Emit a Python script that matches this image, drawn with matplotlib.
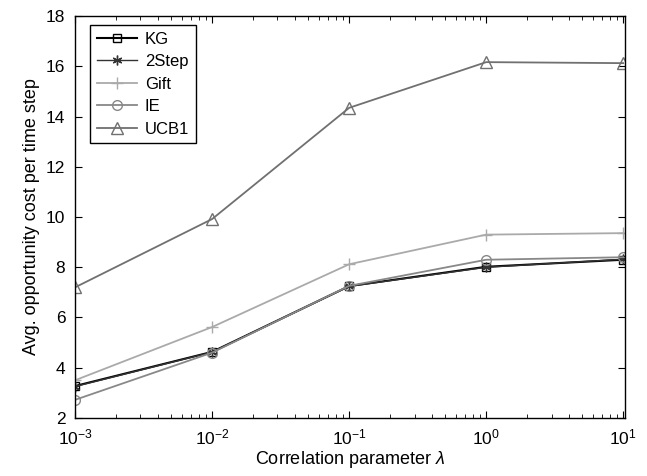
import matplotlib
matplotlib.use('Agg')
import matplotlib.pyplot as plt
import numpy as np
from matplotlib.ticker import LogLocator, NullFormatter

plt.rcParams['font.family'] = ['Liberation Sans', 'DejaVu Sans']
plt.rcParams['mathtext.fontset'] = 'custom'
plt.rcParams['mathtext.rm'] = 'Liberation Sans'
plt.rcParams['mathtext.it'] = 'Liberation Sans:italic'

lam = [1e-3, 1e-2, 1e-1, 1e0, 1e1]
kg = [3.27, 4.63, 7.25, 8.02, 8.30]
two_step = [3.25, 4.62, 7.24, 8.00, 8.32]
gift = [3.50, 5.62, 8.12, 9.30, 9.36]
ie = [2.72, 4.60, 7.26, 8.30, 8.40]
ucb1 = [7.20, 9.92, 14.35, 16.17, 16.13]

fig = plt.figure(figsize=(6.47, 4.76), dpi=100)
ax = fig.add_axes([0.116, 0.122, 0.85, 0.844])

ax.plot(lam, kg, color='black', lw=1.5, marker='s', ms=6, mfc='none', mew=1.0, label='KG')
ax.plot(lam, two_step, color='#333333', lw=1.0, marker=(6, 2, 0), ms=7, mew=1.0, label='2Step')
ax.plot(lam, gift, color='#aaaaaa', lw=1.3, marker='+', ms=9, mew=1.0, label='Gift')
ax.plot(lam, ie, color='#888888', lw=1.3, marker='o', ms=7, mfc='none', mew=1.0, label='IE')
ax.plot(lam, ucb1, color='#707070', lw=1.3, marker='^', ms=8, mfc='none', mew=1.0, label='UCB1')

ax.set_xscale('log')
ax.set_xlim(1e-3, 10.3)
ax.set_ylim(2, 18)
ax.set_yticks(np.arange(2, 19, 2))
ax.xaxis.set_major_locator(LogLocator(base=10, numticks=10))
ax.xaxis.set_minor_locator(LogLocator(base=10, subs=np.arange(2, 10), numticks=10))
ax.xaxis.set_minor_formatter(NullFormatter())
ax.tick_params(which='both', direction='in', top=True, right=True, labelsize=12.5)
ax.tick_params(which='major', length=5)
ax.tick_params(which='minor', length=3)
ax.tick_params(axis='x', which='major', pad=7)
ax.tick_params(axis='y', which='major', pad=7)
for s in ax.spines.values():
    s.set_linewidth(1.0)

ax.set_xlabel('Correlation parameter $\\mathit{\\lambda}$', fontsize=13, labelpad=1)
ax.set_ylabel('Avg. opportunity cost per time step', fontsize=13, labelpad=4)

leg = ax.legend(loc='upper left', bbox_to_anchor=(0.027, 0.978), borderaxespad=0,
                numpoints=1, fontsize=12, fancybox=False, edgecolor='black',
                framealpha=1, handlelength=2.4, borderpad=0.4, labelspacing=0.45,
                handletextpad=0.5)
leg.get_frame().set_linewidth(1.0)

fig.savefig('out.png', dpi=100)
